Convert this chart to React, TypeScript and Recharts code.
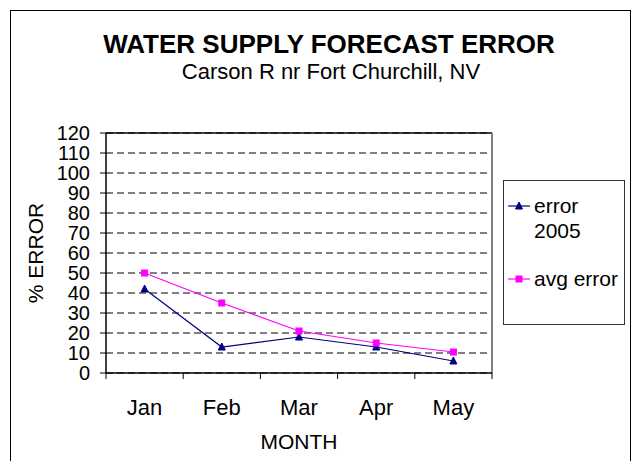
import React from "react";
import {
  CartesianGrid,
  Line,
  LineChart,
  ReferenceLine,
  XAxis,
  YAxis,
} from "recharts";

const months = ["Jan", "Feb", "Mar", "Apr", "May"];
const error2005 = [42, 13, 18, 13, 6];
const avgError = [50, 35, 21, 15, 10.5];
const yTicks = [0, 10, 20, 30, 40, 50, 60, 70, 80, 90, 100, 110, 120];
const boundaryTicks = [0, 1, 2, 3, 4, 5];
const centerTicks = [0.5, 1.5, 2.5, 3.5, 4.5];

const NAVY = "#000080";
const MAGENTA = "#FF00FF";
const FONT = "'Liberation Sans', Arial, sans-serif";

const data = months.map((m, i) => ({
  x: i + 0.5,
  month: m,
  error2005: error2005[i],
  avgError: avgError[i],
}));

function Triangle({ cx, cy, color }: { cx?: number; cy?: number; color: string }) {
  if (cx == null || cy == null) return null;
  return (
    <path
      d={`M${cx},${cy - 4} L${cx + 3.5},${cy + 3} L${cx - 3.5},${cy + 3} Z`}
      fill={color}
      stroke={color}
    />
  );
}

function Square({ cx, cy, color }: { cx?: number; cy?: number; color: string }) {
  if (cx == null || cy == null) return null;
  return <rect x={cx - 3} y={cy - 3} width={6} height={6} fill={color} stroke={color} />;
}

const legendItems = [
  { name: "error 2005", color: NAVY, shape: "triangle" },
  { name: "avg error", color: MAGENTA, shape: "square" },
];

function LegendBox() {
  return (
    <div
      style={{
        position: "absolute",
        left: 503,
        top: 180,
        width: 122,
        height: 145,
        boxSizing: "border-box",
        border: "1px solid #333",
        background: "#fff",
        fontFamily: FONT,
        fontSize: 21,
        lineHeight: "25px",
        color: "#000",
        paddingTop: 12,
      }}
    >
      {legendItems.map((it, i) => (
        <div
          key={it.name}
          style={{ display: "flex", alignItems: "flex-start", marginTop: i === 0 ? 0 : 23 }}
        >
          <svg width={30} height={25} style={{ flex: "none" }}>
            <line x1={4} x2={26} y1={13} y2={13} stroke={it.color} strokeWidth={1.2} />
            {it.shape === "triangle" ? (
              <Triangle cx={15} cy={13} color={it.color} />
            ) : (
              <Square cx={15} cy={13} color={it.color} />
            )}
          </svg>
          <span style={{ width: 88, textAlign: "left" }}>{it.name}</span>
        </div>
      ))}
    </div>
  );
}

export default function App() {
  return (
    <div
      style={{
        position: "fixed",
        left: 0,
        top: 0,
        width: 639,
        height: 461,
        overflow: "hidden",
        background: "#fff",
        fontFamily: FONT,
      }}
    >
      <div
        style={{
          position: "absolute",
          left: 10,
          top: 10,
          width: 619,
          height: 470,
          border: "1.5px solid #000",
        }}
      />
      <div
        style={{
          position: "absolute",
          left: 29,
          width: 600,
          top: 31,
          textAlign: "center",
          fontSize: 26,
          lineHeight: "26px",
          fontWeight: "bold",
          whiteSpace: "nowrap",
        }}
      >
        WATER SUPPLY FORECAST ERROR
      </div>
      <div
        style={{
          position: "absolute",
          left: 31,
          width: 600,
          top: 61,
          textAlign: "center",
          fontSize: 22,
          lineHeight: "22px",
          whiteSpace: "nowrap",
        }}
      >
        Carson R nr Fort Churchill, NV
      </div>
      <LineChart
        width={639}
        height={461}
        data={data}
        margin={{ top: 133, right: 147, bottom: 0, left: 0 }}
        style={{ position: "absolute", left: 0, top: 0 }}
      >
        <CartesianGrid
          horizontal
          vertical={false}
          stroke="#000"
          strokeDasharray="7 4"
        />
        <XAxis
          dataKey="x"
          type="number"
          domain={[0, 5]}
          ticks={boundaryTicks}
          tickFormatter={() => ""}
          height={6}
          tickSize={6}
          stroke="#000"
          axisLine={{ stroke: "#000", strokeWidth: 1.5 }}
          tickLine={{ stroke: "#000" }}
        />
        <XAxis
          xAxisId="lbl"
          dataKey="x"
          type="number"
          domain={[0, 5]}
          ticks={centerTicks}
          tickFormatter={(v: number) => months[Math.floor(v)]}
          axisLine={false}
          tickLine={false}
          height={82}
          tickSize={0}
          tickMargin={20}
          tick={{ fill: "#000", fontSize: 22, fontFamily: FONT }}
          label={{
            value: "MONTH",
            position: "insideBottom",
            offset: 12,
            fill: "#000",
            fontSize: 21,
            fontFamily: FONT,
          }}
        />
        <YAxis
          type="number"
          domain={[0, 120]}
          ticks={yTicks}
          interval={0}
          width={106}
          tickSize={6}
          tickMargin={10}
          axisLine={{ stroke: "#000", strokeWidth: 1.5 }}
          tickLine={{ stroke: "#000" }}
          tick={{ fill: "#000", fontSize: 20, fontFamily: FONT }}
          label={{
            content: (props: any) => {
              const vb = props.viewBox || {};
              const cy = (vb.y ?? 0) + (vb.height ?? 0) / 2;
              return (
                <text
                  x={35}
                  y={cy}
                  transform={`rotate(-90, 35, ${cy})`}
                  textAnchor="middle"
                  dominantBaseline="central"
                  fontSize={21}
                  fontFamily={FONT}
                  fill="#000"
                >
                  % ERROR
                </text>
              );
            },
          }}
        />
        <ReferenceLine y={120} stroke="#000" strokeWidth={1.5} />
        <ReferenceLine x={5} stroke="#808080" strokeWidth={2} />
        <Line
          type="linear"
          dataKey="error2005"
          name="error 2005"
          stroke={NAVY}
          strokeWidth={1.2}
          isAnimationActive={false}
          dot={(p: any) => <Triangle key={`t${p.index}`} cx={p.cx} cy={p.cy} color={NAVY} />}
        />
        <Line
          type="linear"
          dataKey="avgError"
          name="avg error"
          stroke={MAGENTA}
          strokeWidth={1.2}
          isAnimationActive={false}
          dot={(p: any) => <Square key={`s${p.index}`} cx={p.cx} cy={p.cy} color={MAGENTA} />}
        />
      </LineChart>
      <LegendBox />
    </div>
  );
}
